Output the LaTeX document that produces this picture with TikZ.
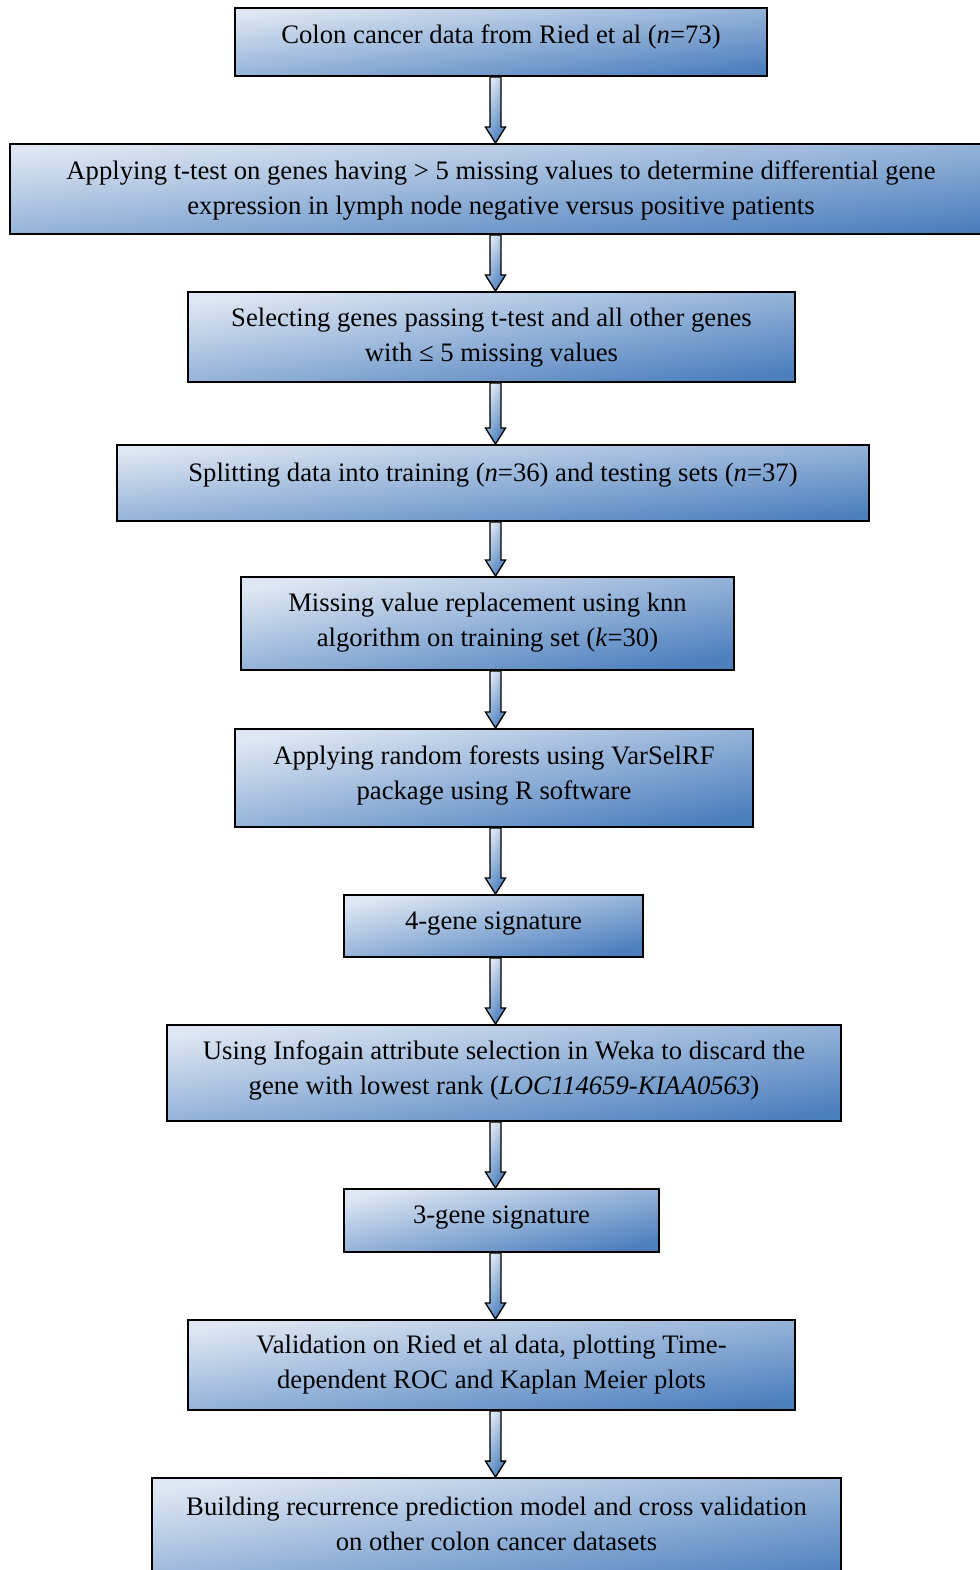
\documentclass[tikz,border=0pt]{standalone}
\usepackage{fontspec}
\setmainfont{Liberation Serif}
\usetikzlibrary{calc,fit}
\definecolor{albastrudeschis}{RGB}{222,231,243}
\definecolor{albastruinchis}{RGB}{76,127,190}
\tikzset{
  caseta/.style      = {draw=black, line width=1.4pt, inner sep=0pt,
                        top color=albastrudeschis, bottom color=albastruinchis,
                        shading angle=#1},
  caseta/.default    = 8,
  scris/.style       = {align=center, inner sep=0pt,
                        font=\fontsize{20}{26.25}\selectfont},
  sageatabloc/.style = {draw=black, line width=1pt, line join=miter,
                        top color=albastrudeschis, bottom color=albastruinchis,
                        shading angle=60}
}
% sageata groasa intre doua casete, pe axa comuna
\newcommand{\blocsageata}[2]{%
  \path[sageatabloc] let \p1=(#1.south -| axa), \p2=(#2.north -| axa) in
    (\x1-4.1pt,\y1) -- (\x1+4.1pt,\y1) -- (\x1+4.1pt,\y2+12pt) --
    (\x1+7.5pt,\y2+12pt) -- (\x1,\y2) -- (\x1-7.5pt,\y2+12pt) --
    (\x1-4.1pt,\y2+12pt) -- cycle;}

\begin{document}
\begin{tikzpicture}[x=0.75pt, y=-0.75pt]
        \useasboundingbox (0,0) rectangle (980,1570);
        \coordinate (axa) at (495.5,0);

        \node[caseta=7.3, fit={(235,8) (767,76)}] (c1) {};
        \node[scris] (t1) at (501,37) {Colon cancer data from Ried et al (\textit{n}=73)};
        \node[caseta=5.2, fit={(10,144) (992,234)}] (c2) {};
        \node[scris] (t2) at (501,190) {Applying t-test on genes having > 5 missing values to determine differential gene\\ expression in lymph node negative versus positive patients};
        \node[caseta=8.4, fit={(188,292) (795,382)}] (c3) {};
        \node[scris] (t3) at (491.5,338) {Selecting genes passing t-test and all other genes\\ with ≤ 5 missing values};
        \node[caseta=5.8, fit={(117,445) (869,521)}] (c4) {};
        \node[scris] (t4) at (493,475) {Splitting data into training (\textit{n}=36) and testing sets (\textit{n}=37)};
        \node[caseta=10.7, fit={(241,577) (734,670)}] (c5) {};
        \node[scris] (t5) at (487.5,623) {Missing value replacement using knn\\ algorithm on training set (\textit{k}=30)};
        \node[caseta=10.7, fit={(235,729) (753,827)}] (c6) {};
        \node[scris] (t6) at (494,775) {Applying random forests using VarSelRF\\ package using R software};
        \node[caseta=11.7, fit={(344,895) (643,957)}] (c7) {};
        \node[scris] (t7) at (493.5,924) {4-gene signature};
        \node[caseta=8.1, fit={(167,1025) (841,1121)}] (c8) {};
        \node[scris] (t8) at (504,1070) {Using Infogain attribute selection in Weka to discard the\\ gene with lowest rank (\textit{LOC114659-KIAA0563})};
        \node[caseta=11.3, fit={(344,1189) (659,1252)}] (c9) {};
        \node[scris] (t9) at (501.5,1218) {3-gene signature};
        \node[caseta=8.4, fit={(188,1320) (795,1410)}] (c10) {};
        \node[scris] (t10) at (491.5,1365) {Validation on Ried et al data, plotting Time-\\ dependent ROC and Kaplan Meier plots};
        \node[caseta=8.3, fit={(152,1478) (841,1590)}] (c11) {};
        \node[scris] (t11) at (496.5,1524) {Building recurrence prediction model and cross validation\\ on other colon cancer datasets};

        \blocsageata{c1}{c2}
        \blocsageata{c2}{c3}
        \blocsageata{c3}{c4}
        \blocsageata{c4}{c5}
        \blocsageata{c5}{c6}
        \blocsageata{c6}{c7}
        \blocsageata{c7}{c8}
        \blocsageata{c8}{c9}
        \blocsageata{c9}{c10}
        \blocsageata{c10}{c11}
    \end{tikzpicture}
\end{document}
